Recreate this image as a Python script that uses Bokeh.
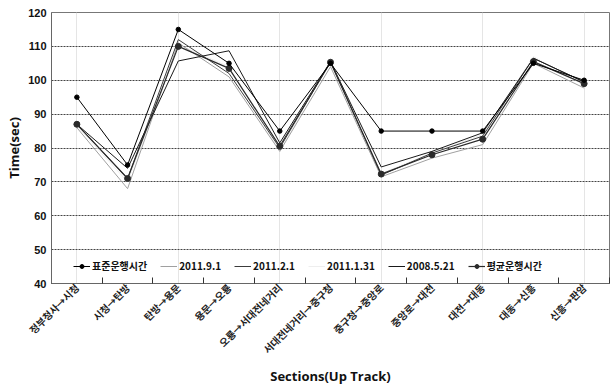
from math import pi

from bokeh.plotting import figure
from bokeh.models import FixedTicker, Legend, LegendItem, LinearAxis, Range1d
from bokeh.embed import file_html
from bokeh.resources import INLINE

# Sections of the up track, in running order
sections = [
    "정부청사→시청", "시청→탄방", "탄방→용문", "용문→오룡", "오룡→서대전네거리",
    "서대전네거리→중구청", "중구청→중앙로", "중앙로→대전", "대전→대동",
    "대동→신흥", "신흥→판암",
]

# Running time per section (sec)
standard_time = [95, 75, 115, 105, 85, 105, 85, 85, 85, 105, 100]
run_2011_9_1 = [86, 68, 111, 101, 79, 104, 71.5, 77, 81, 105, 97.7]
run_2011_2_1 = [87, 71, 112, 102, 80, 105.5, 72, 78.5, 83.5, 106.5, 99.5]
run_2011_1_31 = [86.5, 70, 110.5, 104, 79, 106, 72.5, 78.5, 84, 107, 98.5]
run_2008_5_21 = [87, 74, 105.7, 108.7, 81.5, 105.5, 74.4, 79, 84.5, 106.5, 99.5]
average_time = [87, 71, 110, 103.5, 80.5, 105.3, 72.3, 78, 82.6, 105.5, 99]

y_ticks = [40, 50, 60, 70, 80, 90, 100, 110, 120]

xs = list(range(len(sections)))
boundaries = [i - 0.5 for i in range(len(sections) + 1)]

p = figure(
    width=612, height=389,
    output_backend="svg", toolbar_location=None,
    x_range=Range1d(-0.5, len(sections) - 0.5),
    y_range=Range1d(40, 120),
    x_axis_location=None,
    min_border_left=51, min_border_right=3,
    min_border_top=12, min_border_bottom=106,
)
p.background_fill_color = "white"
p.border_fill_color = "white"
p.outline_line_color = "#777777"
p.outline_line_width = 1

# y axis
p.yaxis.ticker = FixedTicker(ticks=y_ticks)
p.yaxis.axis_label = "Time(sec)"
p.yaxis.axis_label_text_font = "Open Sans"
p.yaxis.axis_label_text_font_style = "bold"
p.yaxis.axis_label_text_font_size = "13px"
p.yaxis.axis_label_text_color = "#111111"
p.yaxis.axis_label_standoff = 2
p.yaxis.major_label_text_font = "Liberation Sans"
p.yaxis.major_label_text_font_style = "bold"
p.yaxis.major_label_text_font_size = "11px"
p.yaxis.major_label_text_color = "#111111"
p.yaxis.major_label_standoff = 5
p.yaxis.major_tick_out = 0
p.yaxis.major_tick_in = 0
p.yaxis.minor_tick_out = 0
p.yaxis.minor_tick_in = 0
p.yaxis.axis_line_color = "#666666"

# inner tick marks on the section boundaries (minor ticks only, no labels)
boundary_axis = LinearAxis(
    ticker=FixedTicker(ticks=[], minor_ticks=boundaries),
    major_label_standoff=0,
    major_tick_in=0,
    major_tick_out=0,
    minor_tick_in=6,
    minor_tick_out=0,
    minor_tick_line_color="#333333",
    axis_line_color="#666666",
)
p.add_layout(boundary_axis, "below")

# section names under each point
section_axis = LinearAxis(
    ticker=FixedTicker(ticks=xs),
    major_label_overrides={i: s for i, s in enumerate(sections)},
    major_label_orientation=pi / 4,
    major_label_text_font="Noto Sans CJK KR",
    major_label_text_font_style="bold",
    major_label_text_font_size="10px",
    major_label_text_color="#222222",
    major_label_standoff=2,
    major_tick_in=0,
    major_tick_out=0,
    minor_tick_in=0,
    minor_tick_out=0,
    axis_line_color=None,
    axis_label="Sections(Up Track)",
    axis_label_text_font="Open Sans",
    axis_label_text_font_style="bold",
    axis_label_text_font_size="13px",
    axis_label_text_color="#111111",
    axis_label_standoff=2,
)
p.add_layout(section_axis, "below")

# dotted horizontal grid
p.ygrid.grid_line_color = "#444444"
p.ygrid.grid_line_dash = "2 1"
p.ygrid.grid_line_width = 1

# series lines
r_131 = p.line(xs, run_2011_1_31, line_color="#eeeeee", line_width=1)
r_91 = p.line(xs, run_2011_9_1, line_color="#a0a0a0", line_width=1)
r_21 = p.line(xs, run_2011_2_1, line_color="#3c3c3c", line_width=1)
r_08 = p.line(xs, run_2008_5_21, line_color="#1a1a1a", line_width=1)
r_avg = p.line(xs, average_time, line_color="#2a2a2a", line_width=1.2)
r_avg_m = p.scatter(xs, average_time, size=6, marker="circle",
                    fill_color="#2a2a2a", line_color="#2a2a2a")
r_std = p.line(xs, standard_time, line_color="#000000", line_width=1)
r_std_m = p.scatter(xs, standard_time, size=4.5, marker="circle",
                    fill_color="#000000", line_color="#000000")

legend = Legend(
    items=[
        LegendItem(label="표준운행시간", renderers=[r_std, r_std_m]),
        LegendItem(label="2011.9.1", renderers=[r_91]),
        LegendItem(label="2011.2.1", renderers=[r_21]),
        LegendItem(label="2011.1.31", renderers=[r_131]),
        LegendItem(label="2008.5.21", renderers=[r_08]),
        LegendItem(label="평균운행시간", renderers=[r_avg, r_avg_m]),
    ],
    orientation="horizontal",
    location=(22, 10),
    spacing=13,
    padding=0,
    margin=0,
    glyph_width=17,
    glyph_height=10,
    label_height=10,
    label_standoff=2,
    label_text_font="Noto Sans CJK KR",
    label_text_font_style="bold",
    label_text_font_size="10px",
    label_text_color="#111111",
    background_fill_alpha=0,
    border_line_color=None,
)
p.add_layout(legend, "center")

open("out.html", "w").write(file_html(p, INLINE))
